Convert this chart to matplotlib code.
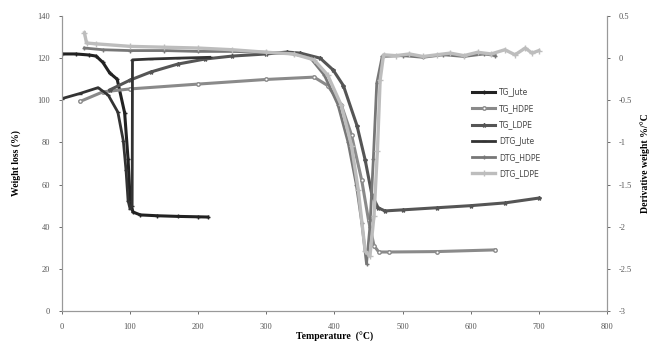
import matplotlib.pyplot as plt

# TG curves (left axis, %)
tg_jute_t = [0, 20, 40, 50, 60, 70, 81, 92, 97, 100, 104, 115, 140, 170, 200, 214]
tg_jute_w = [122, 122, 121.5, 121, 118, 113, 110, 94, 72, 53, 47, 45.6, 45.2, 44.9, 44.7, 44.6]

tg_hdpe_t = [27, 60, 100, 200, 300, 370, 390, 410, 425, 440, 450, 458, 465, 480, 550, 636]
tg_hdpe_w = [99.5, 104, 105.4, 107.7, 109.9, 111, 107, 97.8, 83.5, 62, 43, 31, 28, 28, 28.2, 29]

tg_ldpe_t = [70, 100, 130, 170, 210, 250, 300, 330, 350, 379, 398, 413, 433, 445, 455, 464, 474,
             500, 550, 600, 650, 700]
tg_ldpe_w = [104.9, 109.6, 113.4, 117.2, 119.6, 121, 122, 122.9, 122.4, 120, 114.4, 107, 88, 71.7,
             55, 49, 47.5, 48, 49, 50, 51.3, 53.6]

# DTG curves (right axis, %/°C)
dtg_jute_t = [0, 26, 53, 68, 82, 90, 94, 97, 100, 103, 103.5, 130, 170, 217]
dtg_jute_d = [-0.48, -0.42, -0.35, -0.44, -0.64, -0.98, -1.33, -1.69, -1.79, -1.75, -0.02, -0.01, 0.0, 0.01]

dtg_hdpe_t = [33, 60, 100, 150, 200, 250, 300, 340, 365, 385, 405, 420, 432, 440, 447, 452, 457, 462,
              470, 500, 530, 560, 590, 620, 636]
dtg_hdpe_d = [0.12, 0.1, 0.09, 0.09, 0.08, 0.08, 0.07, 0.05, 0.0, -0.2, -0.55, -1.0, -1.5, -1.95, -2.44,
              -2.0, -1.2, -0.3, 0.02, 0.03, 0.01, 0.04, 0.02, 0.05, 0.03]

dtg_ldpe_t = [33, 36, 50, 100, 150, 200, 250, 300, 340, 370, 390, 410, 425, 435, 445, 452, 458, 463,
              467, 472, 490, 510, 530, 550, 570, 590, 610, 630, 650, 665, 680, 690, 700]
dtg_ldpe_d = [0.30, 0.18, 0.17, 0.14, 0.13, 0.12, 0.10, 0.07, 0.05, -0.02, -0.2, -0.56, -1.04, -1.57,
              -2.29, -2.35, -1.87, -1.1, -0.26, 0.04, 0.03, 0.05, 0.02, 0.04, 0.06, 0.03, 0.07, 0.05,
              0.1, 0.04, 0.12, 0.06, 0.09]

fig = plt.figure(figsize=(6.58, 3.41), dpi=100)
ax1 = fig.add_axes([0.0942, 0.088, 0.8283, 0.865])
ax2 = ax1.twinx()

ax1.plot(tg_jute_t, tg_jute_w, color='#222222', lw=2.2, marker='+', ms=3, label='TG_Jute')
ax1.plot(tg_hdpe_t, tg_hdpe_w, color='#8a8a8a', lw=2.2, marker='o', ms=2.5, mfc='white', label='TG_HDPE')
ax1.plot(tg_ldpe_t, tg_ldpe_w, color='#555555', lw=2.2, marker='*', ms=3, label='TG_LDPE')
ax2.plot(dtg_jute_t, dtg_jute_d, color='#333333', lw=2, marker='_', ms=3, label='DTG_Jute')
ax2.plot(dtg_hdpe_t, dtg_hdpe_d, color='#777777', lw=2, marker='+', ms=3, label='DTG_HDPE')
ax2.plot(dtg_ldpe_t, dtg_ldpe_d, color='#bdbdbd', lw=2.4, marker='+', ms=4, label='DTG_LDPE')

ax1.set_xlim(0, 800)
ax1.set_ylim(0, 140)
ax2.set_ylim(-3, 0.5)
ax1.set_xticks(range(0, 801, 100))
ax1.set_yticks(range(0, 141, 20))
r_ticks = [-3, -2.5, -2, -1.5, -1, -0.5, 0, 0.5]
ax2.set_yticks(r_ticks)
ax2.set_yticklabels(['%g' % v for v in r_ticks])

for ax in (ax1, ax2):
    ax.spines['top'].set_visible(False)
    for s in ('left', 'right', 'bottom'):
        ax.spines[s].set_color('#999999')
        ax.spines[s].set_linewidth(0.8)
    ax.tick_params(labelsize=6, colors='#555555', length=2.5, width=0.6, direction='out', pad=6)
    for lbl in ax.get_xticklabels() + ax.get_yticklabels():
        lbl.set_family('Liberation Serif')

ax1.set_xlabel('Temperature  (°C)', family='Liberation Serif', fontweight='bold', fontsize=7, labelpad=1)
ax1.set_ylabel('Weight loss (%)', family='Liberation Serif', fontweight='bold', fontsize=7, labelpad=12)
ax2.set_ylabel('Derivative weight %/°C', family='Liberation Serif', fontweight='bold', fontsize=7, labelpad=6)

h1, l1 = ax1.get_legend_handles_labels()
h2, l2 = ax2.get_legend_handles_labels()
leg = ax2.legend(h1 + h2, l1 + l2, loc='upper left', bbox_to_anchor=(0.74, 0.78), frameon=False,
                 fontsize=5.5, handlelength=3, labelspacing=0.95, handletextpad=0.5)
for t in leg.get_texts():
    t.set_color('#444444')

fig.savefig('out.png', dpi=100)
